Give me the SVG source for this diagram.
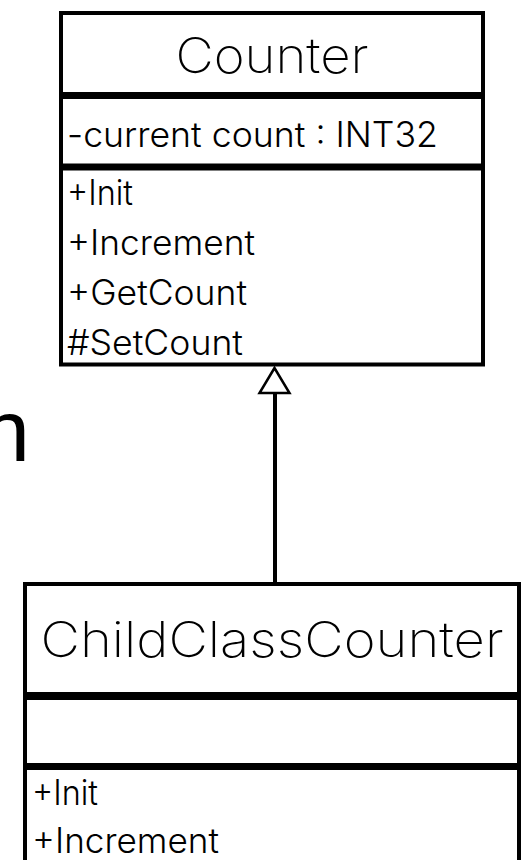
<svg xmlns="http://www.w3.org/2000/svg" width="525" height="860" viewBox="0 0 525 860">
<style>
.box{fill:#fff;stroke:#000;stroke-width:4}
.div{fill:#000}
.title{font-family:Inter,"Liberation Sans",Arial,sans-serif;font-weight:200;font-size:49px;fill:#000;text-anchor:middle}
.mem{font-family:Inter,"Liberation Sans",Arial,sans-serif;font-weight:300;font-size:35px;fill:#000}
.big{font-family:"Liberation Sans",Arial,sans-serif;font-size:88px;fill:#000}
</style>
<rect width="525" height="860" fill="#fff"/>
<text class="big" x="-19" y="461">n</text>
<g id="connectors">
<line x1="275" y1="393" x2="275" y2="582" stroke="#000" stroke-width="4"/>
<polygon points="274.5,368 259.5,393 289.5,393" fill="#fff" stroke="#000" stroke-width="2.5"/>
</g>
<g id="Counter">
<rect class="box" x="61" y="13" width="422" height="351.5"/>
<rect class="div" x="61" y="92" width="422" height="7"/>
<rect class="div" x="61" y="163.5" width="422" height="7"/>
<text class="title" x="272" y="73" textLength="193" lengthAdjust="spacingAndGlyphs">Counter</text>
<text class="mem" x="67" y="147" textLength="371" lengthAdjust="spacingAndGlyphs">-current count : INT32</text>
<text class="mem" x="67" y="205" textLength="66" lengthAdjust="spacingAndGlyphs">+Init</text>
<text class="mem" x="67" y="255" textLength="188" lengthAdjust="spacingAndGlyphs">+Increment</text>
<text class="mem" x="67" y="305" textLength="180" lengthAdjust="spacingAndGlyphs">+GetCount</text>
<text class="mem" x="67" y="355" textLength="176" lengthAdjust="spacingAndGlyphs">#SetCount</text>
</g>
<g id="ChildClassCounter">
<rect class="box" x="25" y="584" width="494" height="300"/>
<rect class="div" x="25" y="692" width="494" height="8"/>
<rect class="div" x="25" y="763" width="494" height="7"/>
<text class="title" x="272" y="657" font-size="50" textLength="463" lengthAdjust="spacingAndGlyphs">ChildClassCounter</text>
<text class="mem" x="32" y="805" textLength="66" lengthAdjust="spacingAndGlyphs">+Init</text>
<text class="mem" x="32" y="853" textLength="187" lengthAdjust="spacingAndGlyphs">+Increment</text>
</g>
</svg>
